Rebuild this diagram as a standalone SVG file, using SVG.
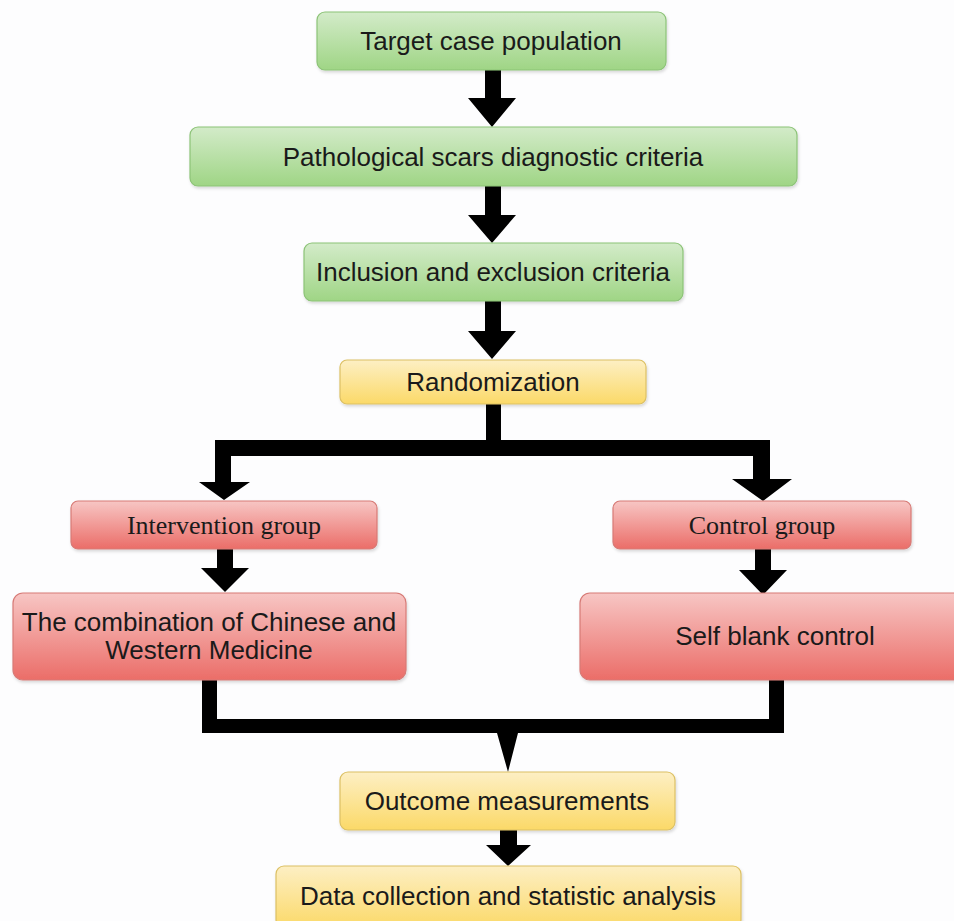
<svg xmlns="http://www.w3.org/2000/svg" width="954" height="921" viewBox="0 0 954 921">
<defs>
<linearGradient id="gGreen" x1="0" y1="0" x2="0" y2="1"><stop offset="0" stop-color="#d3ebc9"/><stop offset="1" stop-color="#9fd585"/></linearGradient>
<linearGradient id="gYellow" x1="0" y1="0" x2="0" y2="1"><stop offset="0" stop-color="#fdefc4"/><stop offset="1" stop-color="#fbd968"/></linearGradient>
<linearGradient id="gRed" x1="0" y1="0" x2="0" y2="1"><stop offset="0" stop-color="#f7c6c4"/><stop offset="1" stop-color="#eb6d68"/></linearGradient>
<filter id="sh" x="-5%" y="-10%" width="110%" height="130%"><feDropShadow dx="1" dy="2" stdDeviation="1.5" flood-color="#000" flood-opacity="0.15"/></filter>
</defs>
<style>
.green{fill:url(#gGreen);stroke:#8cc377;stroke-width:1.2;filter:url(#sh)}
.yellow{fill:url(#gYellow);stroke:#dcc064;stroke-width:1.2;filter:url(#sh)}
.red{fill:url(#gRed);stroke:#d77a76;stroke-width:1.2;filter:url(#sh)}
.t{font-family:"Liberation Sans",Arial,sans-serif;font-size:26px;fill:#1a1a1a;text-anchor:middle}
.s{font-family:"Liberation Serif","Times New Roman",serif;font-size:26px;fill:#1a1a1a;text-anchor:middle}
.c{fill:#000}
</style>
<rect width="954" height="921" fill="#fdfdfe"/>
<g id="connectors">
<polygon class="c" points="485,70 501,70 501,98 516,98 492,127 468,98 485,98"/>
<polygon class="c" points="485,186 501,186 501,215 516,215 492,243 468,215 485,215"/>
<polygon class="c" points="485,301 501,301 501,331 516,331 492,359 468,331 485,331"/>
<polygon class="c" points="486,403 501,403 501,440 770,440 770,479 792,479 763,501 732,479 753,479 753,456 231,456 231,482 250,482 224,500 199,482 215,482 215,440 486,440"/>
<polygon class="c" points="217,549 233,549 233,568 249,568 225,592 201,568 217,568"/>
<polygon class="c" points="755,549 771,549 771,570 787,570 763,595 739,570 755,570"/>
<polygon class="c" points="202,680 217,680 217,719 769,719 769,680 784,680 784,733 518,733 508,772 497,733 202,733"/>
<polygon class="c" points="500,830 517,830 517,845 531,845 508,866 486,845 500,845"/>
</g>
<g id="n1"><rect class="green" x="317" y="12" width="349" height="58" rx="8"/><text class="t" x="491" y="50">Target case population</text></g>
<g id="n2"><rect class="green" x="190" y="127" width="607" height="59" rx="8"/><text class="t" x="493" y="166">Pathological scars diagnostic criteria</text></g>
<g id="n3"><rect class="green" x="304" y="243" width="379" height="58" rx="8"/><text class="t" x="493" y="281">Inclusion and exclusion criteria</text></g>
<g id="n4"><rect class="yellow" x="340" y="360" width="306" height="44" rx="7"/><text class="t" x="493" y="391">Randomization</text></g>
<g id="n5"><rect class="red" x="71" y="501" width="306" height="48" rx="7"/><text class="s" x="224" y="534">Intervention group</text></g>
<g id="n6"><rect class="red" x="613" y="501" width="298" height="48" rx="7"/><text class="s" x="762" y="534">Control group</text></g>
<g id="n7"><rect class="red" x="13" y="593" width="393" height="87" rx="10"/><text class="t" x="209" y="631">The combination of Chinese and</text><text class="t" x="209" y="659">Western Medicine</text></g>
<g id="n8"><rect class="red" x="580" y="593" width="390" height="87" rx="10"/><text class="t" x="775" y="645">Self blank control</text></g>
<g id="n9"><rect class="yellow" x="340" y="772" width="335" height="58" rx="8"/><text class="t" x="507" y="810">Outcome measurements</text></g>
<g id="n10"><rect class="yellow" x="276" y="866" width="465" height="62" rx="8"/><text class="t" x="508" y="905">Data collection and statistic analysis</text></g>
</svg>
